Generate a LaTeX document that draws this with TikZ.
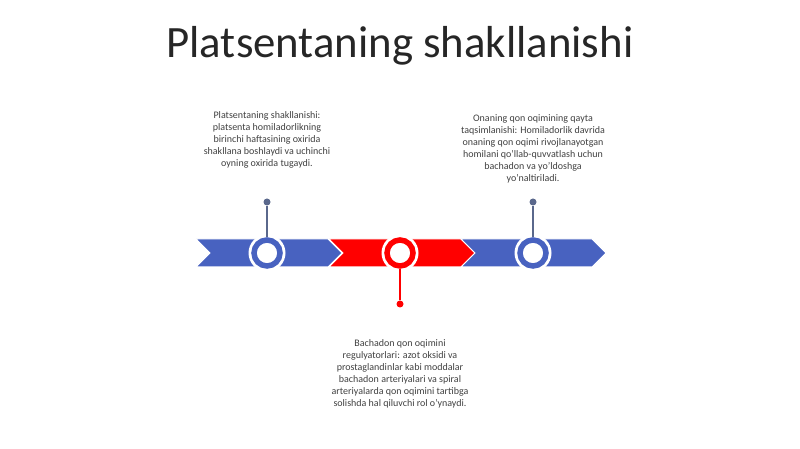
\documentclass[tikz,border=0pt]{standalone}
\usepackage{fontspec}
\setmainfont{Carlito}
\usetikzlibrary{positioning}
\definecolor{chevblue}{RGB}{72,98,192}
\definecolor{chevred}{RGB}{255,0,0}
\definecolor{pinblue}{RGB}{90,104,140}
\definecolor{notegray}{RGB}{64,64,64}
\begin{document}
\begin{tikzpicture}[x=1pt,y=1pt,
chev/.style ={draw=white, line width=1pt, line join=miter},
halo/.style ={circle, fill=white, minimum size=37pt, inner sep=0pt},
ring/.style ={circle, draw=#1, line width=5.5pt, fill=white,
minimum size=26pt, inner sep=0pt},
pin/.style ={draw=#1, line width=1.4pt},
dot/.style ={circle, fill=#1, minimum size=7pt, inner sep=0pt},
note/.style ={align=center, text=notegray, inner sep=0pt,
font=\fontsize{10}{12}\selectfont}]
\useasboundingbox (0,0) rectangle (800,449);
% title
\node[anchor=base, text=black!85, font=\fontsize{44.8}{54}\selectfont] (title) at (400,391) {Platsentaning shakllanishi};
% arrow band
\filldraw[chev, fill=chevblue] (196,210) -- (328,210) -- (342,196) -- (328,182) -- (196,182) -- (210,196) -- cycle;
\filldraw[chev, fill=chevred] (329,210) -- (461,210) -- (475,196) -- (461,182) -- (329,182) -- (343,196) -- cycle;
\filldraw[chev, fill=chevblue] (461,210) -- (592,210) -- (606,196) -- (592,182) -- (461,182) -- (475,196) -- cycle;
% rings
\node[halo] (h1) at (267,196) {};
\node[halo] (h2) at (400,196) {};
\node[halo] (h3) at (533,196) {};
\node[ring=chevblue] (r1) at (h1) {};
\node[ring=chevred] (r2) at (h2) {};
\node[ring=chevblue] (r3) at (h3) {};
% pins
\node[dot=pinblue] (d1) at (267,247) {};
\node[dot=pinblue] (d3) at (533,247) {};
\node[dot=chevred] (d2) at (400,145) {};
\draw[pin=pinblue] (d1) -- (r1);
\draw[pin=pinblue] (d3) -- (r3);
\draw[pin=chevred] (d2) -- (r2);
% notes
\node[note, above=30pt of d1] (n1) {Platsentaning shakllanishi:\\ platsenta homiladorlikning\\ birinchi haftasining oxirida\\ shakllana boshlaydi va uchinchi\\ oyning oxirida tugaydi.};
\node[note, above=15pt of d3] (n3) {Onaning qon oqimining qayta\\ taqsimlanishi: Homiladorlik davrida\\ onaning qon oqimi rivojlanayotgan\\ homilani qo'llab-quvvatlash uchun\\ bachadon va yo'ldoshga\\ yo'naltiriladi.};
\node[note, below=32pt of d2] (n2) {Bachadon qon oqimini\\ regulyatorlari: azot oksidi va\\ prostaglandinlar kabi moddalar\\ bachadon arteriyalari va spiral\\ arteriyalarda qon oqimini tartibga\\ solishda hal qiluvchi rol o'ynaydi.};
\end{tikzpicture}
\end{document}
